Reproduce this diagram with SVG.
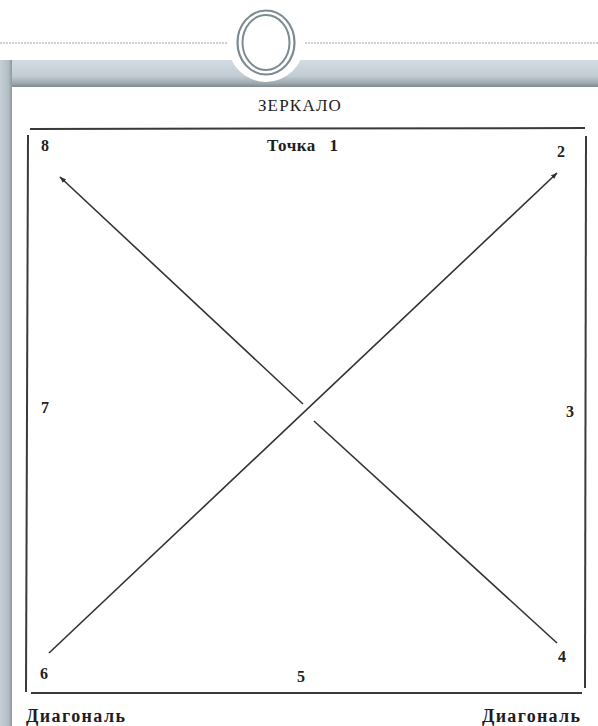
<svg xmlns="http://www.w3.org/2000/svg" width="598" height="726" viewBox="0 0 598 726">
<defs>
<linearGradient id="band" x1="0" y1="0" x2="0" y2="1">
<stop offset="0" stop-color="#d3dce2"/>
<stop offset="0.6" stop-color="#c2ccd3"/>
<stop offset="0.85" stop-color="#9ea9b0"/>
<stop offset="1" stop-color="#7f8a91"/>
</linearGradient>
<linearGradient id="strip" x1="0" y1="0" x2="1" y2="0">
<stop offset="0" stop-color="#c6cfd6"/>
<stop offset="0.7" stop-color="#b3bdc4"/>
<stop offset="1" stop-color="#8d979e"/>
</linearGradient>
<marker id="arr" viewBox="0 0 10 10" refX="9" refY="5" markerWidth="7" markerHeight="7" orient="auto" markerUnits="userSpaceOnUse">
<path d="M0,1.5 L10,5 L0,8.5 Z" fill="#333"/>
</marker>
<style>
.ln{stroke:#333;stroke-width:1.6;fill:none}
.bd{stroke:#3a3a3a;stroke-width:2;fill:none}
.lbl{font-family:"Liberation Serif","DejaVu Serif",serif;fill:#1e1e1e}
.num{font-family:"Liberation Serif","DejaVu Serif",serif;font-weight:bold;font-size:16px;fill:#222}
</style>
</defs>
<rect width="598" height="726" fill="#ffffff"/>
<line x1="0" y1="43" x2="229" y2="43" stroke="#9aa4a8" stroke-width="1" stroke-dasharray="2 1"/>
<line x1="302" y1="43" x2="598" y2="43" stroke="#9aa4a8" stroke-width="1" stroke-dasharray="2 1"/>
<rect x="0" y="60" width="598" height="27" fill="url(#band)"/>
<rect x="0" y="60" width="12" height="666" fill="url(#strip)"/>
<rect x="12" y="87" width="586" height="639" fill="#ffffff"/>
<circle cx="266" cy="44" r="38" fill="#ffffff"/>
<ellipse cx="266" cy="42.5" rx="28.5" ry="32" fill="none" stroke="#7b8b90" stroke-width="2.2"/>
<ellipse cx="266" cy="42.5" rx="23.5" ry="27.5" fill="none" stroke="#7b8b90" stroke-width="2"/>
<g id="frame">
<line class="bd" x1="30" y1="129" x2="585" y2="128"/>
<line class="bd" x1="28" y1="135" x2="26" y2="692"/>
<line class="bd" x1="586" y1="136" x2="585" y2="688"/>
<line class="bd" x1="31" y1="693" x2="582" y2="693"/>
</g>
<g id="connectors">
<line class="ln" x1="557" y1="643" x2="314" y2="421"/>
<line class="ln" x1="303" y1="404" x2="60" y2="177" marker-end="url(#arr)"/>
<line class="ln" x1="49" y1="653" x2="557" y2="173" marker-end="url(#arr)"/>
</g>
<g id="mirror"><text class="lbl" x="300" y="111" text-anchor="middle" font-size="17" letter-spacing="1.2">ЗЕРКАЛО</text></g>
<g id="p1"><text class="lbl" x="267" y="151" font-size="17" font-weight="bold" word-spacing="9" letter-spacing="0.5">Точка 1</text></g>
<g id="p2"><text class="num" x="557" y="157">2</text></g>
<g id="p3"><text class="num" x="566" y="417">3</text></g>
<g id="p4"><text class="num" x="558" y="662">4</text></g>
<g id="p5"><text class="num" x="297" y="682">5</text></g>
<g id="p6"><text class="num" x="40" y="679">6</text></g>
<g id="p7"><text class="num" x="41" y="413">7</text></g>
<g id="p8"><text class="num" x="41" y="151">8</text></g>
<g id="d1"><text class="lbl" x="26" y="722" font-size="18" font-weight="bold" textLength="99" lengthAdjust="spacing">Диагональ</text></g>
<g id="d2"><text class="lbl" x="482" y="722" font-size="18" font-weight="bold" textLength="98" lengthAdjust="spacing">Диагональ</text></g>
</svg>
